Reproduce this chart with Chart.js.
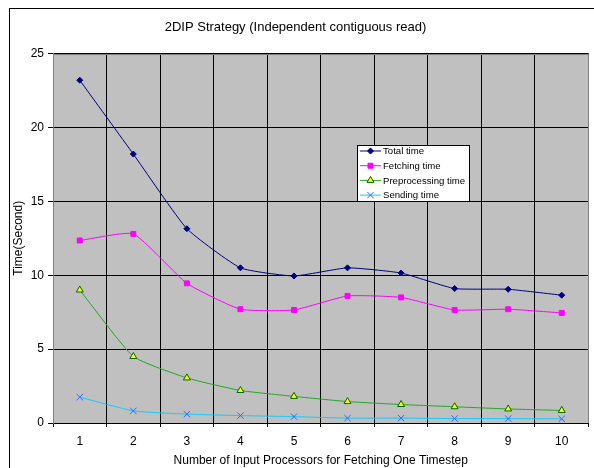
<!DOCTYPE html>
<html>
<head>
<meta charset="utf-8">
<script src="https://cdn.jsdelivr.net/npm/chart.js@4.4.1/dist/chart.umd.min.js"></script>
<style>
html,body{margin:0;padding:0;background:#fff;}
#wrap{width:594px;height:468px;position:relative;}
</style>
</head>
<body>
<div id="wrap"><canvas id="c" width="594" height="468"></canvas></div>
<script>
const categories = ['1','2','3','4','5','6','7','8','9','10'];
const totalTime = [23.2, 18.2, 13.15, 10.5, 9.95, 10.5, 10.15, 9.1, 9.05, 8.65];
const fetchingTime = [12.35, 12.8, 9.45, 7.7, 7.65, 8.6, 8.5, 7.65, 7.7, 7.45];
const preprocessingTime = [9.0, 4.5, 3.05, 2.2, 1.8, 1.45, 1.25, 1.1, 0.95, 0.85];
const sendingTime = [1.75, 0.82, 0.6, 0.5, 0.43, 0.33, 0.33, 0.3, 0.3, 0.28];
const seriesNames = ['Total time', 'Fetching time', 'Preprocessing time', 'Sending time'];
const yTicks = [0, 5, 10, 15, 20, 25];

const FONT = '"Liberation Sans", Arial, sans-serif';

const framePlugin = {
  id: 'frame',
  beforeDraw(chart) {
    const ctx = chart.ctx;
    const a = chart.chartArea;
    ctx.save();
    ctx.fillStyle = '#ffffff';
    ctx.fillRect(0, 0, chart.width, chart.height);
    ctx.strokeStyle = '#000000';
    ctx.lineWidth = 1;
    ctx.strokeRect(9.5, 8.5, 700, 600);
    ctx.fillStyle = '#c0c0c0';
    ctx.fillRect(a.left, a.top, a.right - a.left, a.bottom - a.top);
    ctx.restore();
  },
  afterDatasetsDraw(chart) {
    const ctx = chart.ctx;
    const a = chart.chartArea;
    ctx.save();
    ctx.strokeStyle = '#808080';
    ctx.lineWidth = 1;
    ctx.beginPath();
    ctx.moveTo(Math.round(a.left) + 0.5, a.bottom);
    ctx.lineTo(Math.round(a.left) + 0.5, Math.round(a.top) + 0.5);
    ctx.lineTo(Math.round(a.right) - 0.5, Math.round(a.top) + 0.5);
    ctx.lineTo(Math.round(a.right) - 0.5, a.bottom);
    ctx.stroke();
    ctx.restore();
  },
  afterDraw(chart) {
    const ctx = chart.ctx;
    const bx = 357.5, by = 145.5, bw = 112, bh = 56;
    ctx.save();
    ctx.fillStyle = '#ffffff';
    ctx.fillRect(bx, by, bw, bh);
    ctx.strokeStyle = '#000000';
    ctx.lineWidth = 1;
    ctx.strokeRect(bx, by, bw, bh);
    ctx.font = '9.6px ' + FONT;
    ctx.textBaseline = 'middle';
    ctx.textAlign = 'left';
    chart.data.datasets.forEach((ds, i) => {
      const y = 151 + i * 14.7;
      ctx.strokeStyle = ds.borderColor;
      ctx.lineWidth = 1;
      ctx.beginPath();
      ctx.moveTo(360, y);
      ctx.lineTo(381, y);
      ctx.stroke();
      if (Chart.helpers && Chart.helpers.drawPoint) {
        ctx.fillStyle = ds.pointBackgroundColor;
        ctx.strokeStyle = ds.pointBorderColor;
        ctx.lineWidth = ds.pointBorderWidth;
        Chart.helpers.drawPoint(ctx, {pointStyle: ds.pointStyle, radius: ds.pointRadius, rotation: 0, borderWidth: ds.pointBorderWidth}, 370.5, y);
      }
      ctx.fillStyle = '#000000';
      ctx.fillText(ds.label, 383, y + 0.5);
    });
    ctx.restore();
  }
};

new Chart(document.getElementById('c'), {
  type: 'line',
  data: {
    labels: categories,
    datasets: [
      {label: seriesNames[0], data: totalTime, borderColor: '#000080', borderWidth: 1,
       pointStyle: 'rectRot', pointRadius: 3, pointBackgroundColor: '#000080', pointBorderColor: '#000080', pointBorderWidth: 1, tension: 0.15},
      {label: seriesNames[1], data: fetchingTime, borderColor: '#ff00ff', borderWidth: 1,
       pointStyle: 'rect', pointRadius: 3.5, pointBackgroundColor: '#ff00ff', pointBorderColor: '#ff00ff', pointBorderWidth: 1, tension: 0.15},
      {label: seriesNames[2], data: preprocessingTime, borderColor: '#22aa22', borderWidth: 1,
       pointStyle: 'triangle', pointRadius: 4, pointBackgroundColor: '#ffff00', pointBorderColor: '#006600', pointBorderWidth: 1, tension: 0.15},
      {label: seriesNames[3], data: sendingTime, borderColor: '#11ccff', borderWidth: 1,
       pointStyle: 'crossRot', pointRadius: 4.5, pointBackgroundColor: '#3366ff', pointBorderColor: '#3366ff', pointBorderWidth: 1, tension: 0.15}
    ]
  },
  options: {
    responsive: false,
    animation: false,
    devicePixelRatio: 1,
    layout: {padding: {left: 0, right: 3, top: 0, bottom: 0}},
    plugins: {
      legend: {display: false},
      tooltip: {enabled: false},
      title: {
        display: true,
        text: '2DIP Strategy (Independent contiguous read)',
        color: '#000000',
        font: {family: FONT, size: 13, weight: 'normal'},
        padding: {top: 20, bottom: 18}
      }
    },
    scales: {
      x: {
        type: 'category',
        offset: true,
        grid: {offset: true, color: '#000000', lineWidth: 1, tickLength: 4, drawTicks: true},
        border: {color: '#000000', width: 1},
        ticks: {color: '#000000', font: {family: FONT, size: 12}, padding: 7, maxRotation: 0},
        title: {display: true, text: 'Number of Input Processors for Fetching One Timestep', color: '#000000',
                font: {family: FONT, size: 12}, padding: {top: 0, bottom: 0}},
        afterFit(scale) { scale.height = 45; }
      },
      y: {
        min: 0, max: 25,
        afterBuildTicks(scale) { scale.ticks = yTicks.map(v => ({value: v})); },
        grid: {color: '#000000', lineWidth: 1, tickLength: 5},
        border: {color: '#808080', width: 1},
        ticks: {color: '#000000', font: {family: FONT, size: 12}, padding: 4},
        title: {display: true, text: 'Time(Second)', color: '#000000',
                font: {family: FONT, size: 12}, padding: {top: 11, bottom: 0}},
        afterFit(scale) { scale.width = 53; }
      }
    }
  },
  plugins: [framePlugin]
});
</script>
</body>
</html>
